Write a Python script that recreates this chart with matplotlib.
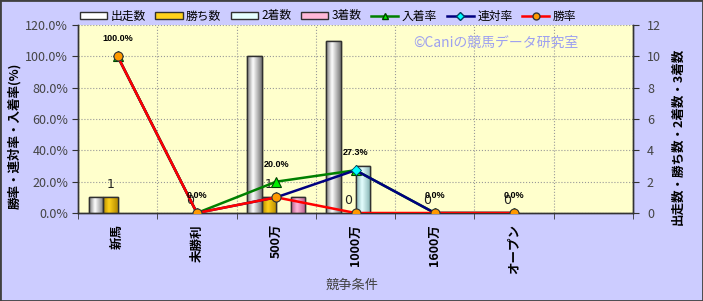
import matplotlib
matplotlib.use("Agg")
import matplotlib.pyplot as plt
import numpy as np
from matplotlib.patches import Patch, Rectangle
from matplotlib.lines import Line2D
from matplotlib.colors import LinearSegmentedColormap

plt.rcParams['font.family'] = ['Noto Sans CJK JP', 'DejaVu Sans']

# ---- data ----
categories = ['新馬', '未勝利', '500万', '1000万', '1600万', 'オープン']
runs = [1, 0, 10, 11, 0, 0]          # 出走数
wins = [1, 0, 1, 0, 0, 0]            # 勝ち数
seconds = [0, 0, 0, 3, 0, 0]         # 2着数
thirds = [0, 0, 1, 0, 0, 0]          # 3着数
place_rate = [100.0, 0.0, 20.0, 27.3, 0.0, 0.0]    # 入着率
rentai_rate = [100.0, 0.0, 10.0, 27.3, 0.0, 0.0]   # 連対率
win_rate = [100.0, 0.0, 10.0, 0.0, 0.0, 0.0]       # 勝率
bar_names = ['出走数', '勝ち数', '2着数', '3着数']
line_names = ['入着率', '連対率', '勝率']

BG = '#CCCCFF'
PLOT_BG = '#FFFFCC'

fig = plt.figure(figsize=(7.03, 3.01), dpi=100, facecolor=BG)
ax = fig.add_axes([78/703, 1-213/301, (633-78)/703, (213-25)/301])
ax.set_facecolor(PLOT_BG)
axl = ax.twinx()

x = np.arange(len(categories))
w = 0.183
bar_series = [runs, wins, seconds, thirds]
bar_cols = [('#777777', '#ffffff'), ('#b58a00', '#ffd21a'),
            ('#80b0b0', '#e6ffff'), ('#b85888', '#ffb8d8')]
edge = '#303030'

ax.set_xlim(-0.5, 6.5)
ax.set_ylim(0, 12)
axl.set_ylim(0, 120)

for i, (vals, (dark, light)) in enumerate(zip(bar_series, bar_cols)):
    offs = (i - 1.5) * w
    bars = ax.bar(x + offs, vals, width=w, facecolor=light, edgecolor=edge,
                  linewidth=1.0, zorder=3)
    cmap = LinearSegmentedColormap.from_list('g', [(0, dark), (0.4, light), (1, dark)])
    grad = np.linspace(0, 1, 64).reshape(1, -1)
    for b, v in zip(bars, vals):
        if v <= 0:
            b.set_visible(False)
            continue
        x0, y0 = b.get_x(), b.get_y()
        im = ax.imshow(grad, extent=[x0, x0 + b.get_width(), y0, y0 + b.get_height()],
                       aspect='auto', cmap=cmap, zorder=3.1, interpolation='bicubic')
        im.set_clip_path(b)
        b2 = Rectangle((x0, y0), b.get_width(), b.get_height(), fill=False,
                       edgecolor=edge, linewidth=1.0, zorder=3.2)
        ax.add_patch(b2)

ax.set_xlim(-0.5, 6.5)
ax.set_ylim(0, 12)

# win count labels
for xi, v in zip(x, wins):
    ax.annotate(str(v), (xi - 0.5 * w, v), xytext=(0, 9), textcoords='offset points',
                ha='center', va='center', fontsize=9, color='#222222', zorder=6,
                family=['DejaVu Sans'])

# lines
axl.plot(x, place_rate, color='#008000', lw=1.8, marker='^', ms=7,
         mfc='#00ee00', mec='#004000', mew=0.8, zorder=4, label=line_names[0])
axl.plot(x, rentai_rate, color='#000080', lw=1.8, marker='D', ms=5,
         mfc='#00ffff', mec='#004060', mew=0.6, zorder=5, label=line_names[1])
axl.plot(x, win_rate, color='#ff0000', lw=1.8, marker='o', ms=6.5,
         mfc='#ff9900', mec='#333333', mew=0.8, zorder=6, label=line_names[2])
axl.set_ylim(0, 120)

for xi, v in zip(x, place_rate):
    axl.annotate(f'{v:.1f}%', (xi, v), xytext=(0, 12.5), textcoords='offset points',
                 ha='center', va='center', fontsize=6.5, fontweight='bold',
                 family=['Liberation Sans'], color='black', zorder=7)

# grid
ax.set_yticks(np.arange(0, 13, 2))
ax.set_xticks(np.arange(-0.5, 7, 1), minor=True)
ax.grid(True, which='major', axis='y', color='#999999', ls=':', lw=0.8, zorder=1)
ax.grid(True, which='minor', axis='x', color='#999999', ls=':', lw=0.8, zorder=1)
ax.set_axisbelow(True)

# axes sides
ax.yaxis.tick_right()
ax.yaxis.set_label_position('right')
axl.yaxis.tick_left()
axl.yaxis.set_label_position('left')
axl.set_yticks(np.arange(0, 121, 20))
axl.set_yticklabels([f'{v:.1f}%' for v in np.arange(0, 121, 20)])

for a in (ax, axl):
    a.spines['top'].set_visible(False)
    for s in ('left', 'right', 'bottom'):
        a.spines[s].set_color('#333333')
        a.spines[s].set_linewidth(1.0)

ax.tick_params(axis='y', labelsize=9, colors='#333333', length=4, labelcolor='#444444', pad=6)
axl.tick_params(axis='y', labelsize=9, colors='#333333', length=4, labelcolor='#444444', pad=3)
ax.set_xticks(x)
ax.set_xticklabels(categories, rotation=90, fontsize=9, fontweight='bold', color='black')
ax.tick_params(axis='x', which='major', length=0, pad=8)
ax.tick_params(axis='x', which='minor', length=4, color='#333333')

axl.set_ylabel('勝率・連対率・入着率(%)', fontsize=9, fontweight='bold')
axl.yaxis.set_label_coords((15-78)/555, (213-135.5)/188)
ax.set_ylabel('出走数・勝ち数・2着数・3着数', fontsize=9, fontweight='bold', rotation=90)
ax.yaxis.set_label_coords((678-78)/555, (213-136)/188)
ax.yaxis.label.set_va('center')
axl.yaxis.label.set_va('center')
fig.text(352/703, 1-285/301, '競争条件', ha='center', va='center', fontsize=9.5,
         color='#444444')

# watermark
ax.text(0.753, 0.904, '©Caniの競馬データ研究室', transform=ax.transAxes,
        ha='center', va='center', fontsize=10, color='#9da0f0', zorder=2)

# legend
handles = [Patch(facecolor=c[1], edgecolor=edge, linewidth=1.0) for c in bar_cols]
handles += [
    Line2D([], [], color='#008000', lw=1.8, marker='^', ms=5, mfc='#00ee00', mec='#004000'),
    Line2D([], [], color='#000080', lw=1.8, marker='D', ms=4, mfc='#00ffff', mec='#004060'),
    Line2D([], [], color='#ff0000', lw=1.8, marker='o', ms=5, mfc='#ff9900', mec='#333333'),
]
fig.legend(handles, bar_names + line_names, loc='center left',
           bbox_to_anchor=(80/703, 1-16/301), ncol=7, frameon=False, fontsize=8.5,
           handlelength=2.3, handleheight=0.6, handletextpad=0.3, columnspacing=0.8,
           borderpad=0, borderaxespad=0)

fig.patches.append(Rectangle((0, 0), 1, 1, transform=fig.transFigure, fill=False,
                             edgecolor='#404040', linewidth=2, zorder=10))

fig.savefig('out.png', dpi=100, facecolor=BG)
